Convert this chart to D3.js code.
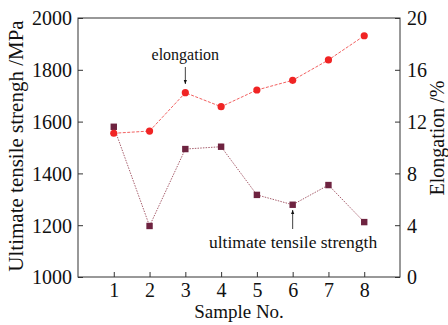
<!DOCTYPE html>
<html>
<head>
<meta charset="utf-8">
<script src="https://cdn.jsdelivr.net/npm/d3@7"></script>
<style>
  html, body { margin: 0; padding: 0; background: #fff; }
  svg { display: block; }
  svg text { font-family: 'Liberation Serif', 'DejaVu Serif', serif; }
</style>
</head>
<body>
<script>
// Chart values
const samples = [1, 2, 3, 4, 5, 6, 7, 8]
const strength = [1580, 1197, 1494, 1503, 1317, 1279, 1355, 1212]
const elongation = [11.1, 11.27, 14.23, 13.15, 14.44, 15.19, 16.76, 18.63]
const leftTicks = [1000, 1200, 1400, 1600, 1800, 2000]
const rightTicks = [0, 4, 8, 12, 16, 20]

const width = 448
const height = 325
const margin = { top: 18, right: 48, bottom: 48, left: 78 }

const svg = d3.select('body')
  .append('svg')
  .attr('width', width)
  .attr('height', height)
  .attr('viewBox', `0 0 ${width} ${height}`)

const x = d3.scaleLinear()
  .domain([0, 9])
  .range([margin.left, width - margin.right])

const yLeft = d3.scaleLinear()
  .domain([1000, 2000])
  .range([height - margin.bottom, margin.top])

const yRight = d3.scaleLinear()
  .domain([0, 20])
  .range([height - margin.bottom, margin.top])

// Frame
svg.append('rect')
  .attr('x', margin.left)
  .attr('y', margin.top)
  .attr('width', width - margin.left - margin.right)
  .attr('height', height - margin.top - margin.bottom)
  .attr('fill', 'none')
  .attr('stroke', '#333')
  .attr('stroke-width', 1)

// Axes with inward ticks
const axisBottom = svg.append('g')
  .attr('transform', `translate(0, ${height - margin.bottom})`)
  .call(d3.axisBottom(x).tickValues(samples).tickSize(-5).tickPadding(6).tickSizeOuter(0).tickFormat(d3.format('d')))

const axisLeft = svg.append('g')
  .attr('transform', `translate(${margin.left}, 0)`)
  .call(d3.axisLeft(yLeft).tickValues(leftTicks).tickSize(-5).tickPadding(6).tickSizeOuter(0).tickFormat(d3.format('d')))

const axisRight = svg.append('g')
  .attr('transform', `translate(${width - margin.right}, 0)`)
  .call(d3.axisRight(yRight).tickValues(rightTicks).tickSize(-5).tickPadding(7).tickSizeOuter(0).tickFormat(d3.format('d')))

for (const ax of [axisBottom, axisLeft, axisRight]) {
  ax.attr('font-family', null)
  ax.select('.domain').remove()
  ax.selectAll('.tick line').attr('stroke', '#333')
  ax.selectAll('text')
    .attr('font-size', 20)
    .attr('fill', '#111')
}
axisLeft.selectAll('text').attr('dy', '0.34em')
axisRight.selectAll('text').attr('dy', '0.34em')
axisBottom.selectAll('text').attr('dy', '0.68em')

// Axis titles
svg.append('text')
  .attr('x', (margin.left + width - margin.right) / 2)
  .attr('y', 318)
  .attr('text-anchor', 'middle')
  .attr('font-size', 19)
  .attr('fill', '#111')
  .text('Sample No.')

svg.append('text')
  .attr('transform', `translate(23, 146) rotate(-90)`)
  .attr('text-anchor', 'middle')
  .attr('font-size', 21)
  .attr('fill', '#111')
  .text('Ultimate tensile strengh /MPa')

svg.append('text')
  .attr('transform', `translate(444, 138) rotate(-90)`)
  .attr('text-anchor', 'middle')
  .attr('font-size', 20)
  .attr('fill', '#111')
  .text('Elongation /%')

// Strength series (squares)
const strengthLine = d3.line()
  .x((d, i) => x(samples[i]))
  .y(d => yLeft(d))

svg.append('path')
  .datum(strength)
  .attr('d', strengthLine)
  .attr('fill', 'none')
  .attr('stroke', '#a8606e')
  .attr('stroke-width', 1)
  .attr('stroke-dasharray', '1.5,1.2')

svg.append('g')
  .selectAll('rect')
  .data(strength)
  .join('rect')
  .attr('x', (d, i) => x(samples[i]) - 3.2)
  .attr('y', d => yLeft(d) - 3.2)
  .attr('width', 6.4)
  .attr('height', 6.4)
  .attr('fill', '#6e2340')

// Elongation series (circles)
const elongLine = d3.line()
  .x((d, i) => x(samples[i]))
  .y(d => yRight(d))

svg.append('path')
  .datum(elongation)
  .attr('d', elongLine)
  .attr('fill', 'none')
  .attr('stroke', '#f26060')
  .attr('stroke-width', 1)
  .attr('stroke-dasharray', '3,1.5')

svg.append('g')
  .selectAll('circle')
  .data(elongation)
  .join('circle')
  .attr('cx', (d, i) => x(samples[i]))
  .attr('cy', d => yRight(d))
  .attr('r', 3.6)
  .attr('fill', '#f02424')

// Annotations
const defs = svg.append('defs')
defs.append('marker')
  .attr('id', 'arrow')
  .attr('viewBox', '0 0 10 10')
  .attr('refX', 10)
  .attr('refY', 5)
  .attr('markerWidth', 5)
  .attr('markerHeight', 6)
  .attr('orient', 'auto')
  .append('path')
  .attr('d', 'M0,1 L10,5 L0,9 Z')
  .attr('fill', '#111')

svg.append('text')
  .attr('x', x(3))
  .attr('y', 60)
  .attr('text-anchor', 'middle')
  .attr('font-size', 16)
  .attr('fill', '#111')
  .text('elongation')

svg.append('line')
  .attr('x1', x(3)).attr('x2', x(3))
  .attr('y1', 67).attr('y2', 84)
  .attr('stroke', '#111')
  .attr('stroke-width', 0.8)
  .attr('marker-end', 'url(#arrow)')

svg.append('text')
  .attr('x', 209)
  .attr('y', 248)
  .attr('font-size', 17.5)
  .attr('fill', '#111')
  .text('ultimate tensile strength')

svg.append('line')
  .attr('x1', x(6)).attr('x2', x(6))
  .attr('y1', 229).attr('y2', 210)
  .attr('stroke', '#111')
  .attr('stroke-width', 0.8)
  .attr('marker-end', 'url(#arrow)')
</script>
</body>
</html>
